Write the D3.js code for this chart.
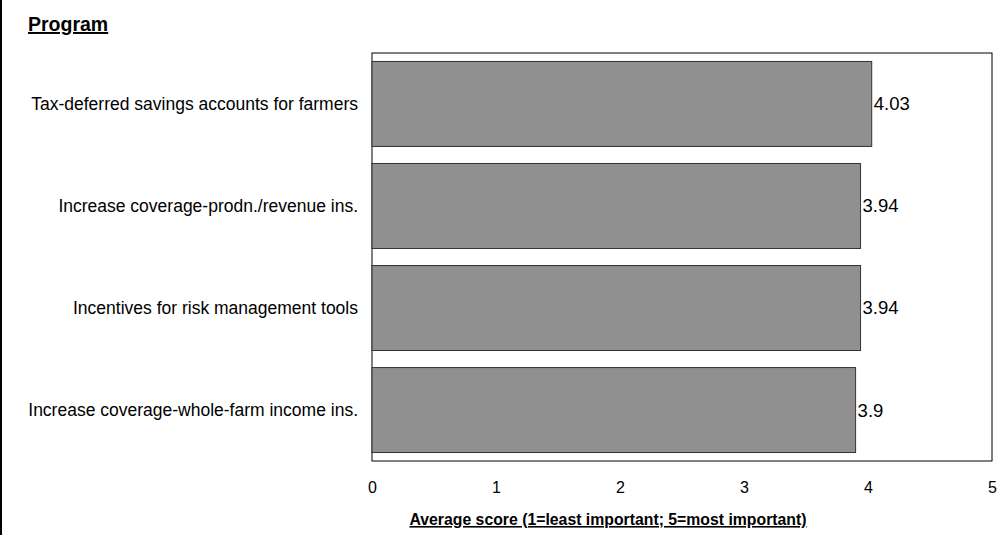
<!DOCTYPE html>
<html>
<head>
<meta charset="utf-8">
<script src="https://cdn.jsdelivr.net/npm/d3@7"></script>
<style>
  body { margin: 0; background: #fff; }
  text { font-family: "Liberation Sans", Arial, sans-serif; fill: #000; }
</style>
</head>
<body>
<div id="container"></div>
<script>
const programs = [
  "Tax-deferred savings accounts for farmers",
  "Increase coverage-prodn./revenue ins.",
  "Incentives for risk management tools",
  "Increase coverage-whole-farm income ins."
];
const scores = [4.03, 3.94, 3.94, 3.9];
const xTicks = [0, 1, 2, 3, 4, 5];

const width = 1007;
const height = 535;
const margin = { top: 53, right: 15, bottom: 74, left: 372 };
const plotW = width - margin.left - margin.right;
const plotH = height - margin.top - margin.bottom;
const fontFamily = "'Liberation Sans', Arial, sans-serif";

const svg = d3.select("#container")
  .append("svg")
  .attr("width", width)
  .attr("height", height);

// outer frame (only left edge shows in the picture)
svg.append("rect")
  .attr("x", 1)
  .attr("y", -10)
  .attr("width", width + 20)
  .attr("height", height + 20)
  .attr("fill", "none")
  .attr("stroke", "#000")
  .attr("stroke-width", 2);

svg.append("text")
  .attr("x", 28)
  .attr("y", 31)
  .style("font-size", "19.5px")
  .style("font-weight", "bold")
  .style("text-decoration", "underline")
  .text("Program");

const g = svg.append("g").attr("transform", `translate(${margin.left},${margin.top})`);

const x = d3.scaleLinear().domain([0, 5]).range([0, plotW]);
const y = d3.scaleBand()
  .domain(programs)
  .range([0, plotH])
  .paddingInner(0.167)
  .paddingOuter(0.083);

g.append("rect")
  .attr("width", plotW)
  .attr("height", plotH)
  .attr("fill", "#fff")
  .attr("stroke", "#000")
  .attr("stroke-width", 1);

g.selectAll("rect.bar")
  .data(programs)
  .enter()
  .append("rect")
  .attr("class", "bar")
  .attr("x", x(0))
  .attr("y", d => y(d))
  .attr("width", (d, i) => x(scores[i]) - x(0))
  .attr("height", y.bandwidth())
  .attr("fill", "#909090")
  .attr("stroke", "#333")
  .attr("stroke-width", 1);

g.selectAll("text.value")
  .data(programs)
  .enter()
  .append("text")
  .attr("class", "value")
  .attr("x", (d, i) => x(scores[i]) + 2)
  .attr("y", d => y(d) + y.bandwidth() / 2)
  .attr("dy", "0.35em")
  .style("font-size", "18.5px")
  .text((d, i) => scores[i]);

// category axis
const yAxis = g.append("g")
  .call(d3.axisLeft(y).tickSize(0).tickPadding(14))
  .attr("font-size", 17.5)
  .attr("font-family", fontFamily);
yAxis.select(".domain").remove();

// value axis
const xAxis = g.append("g")
  .attr("transform", `translate(0,${plotH})`)
  .call(d3.axisBottom(x).tickValues(xTicks).tickSize(0).tickPadding(21).tickFormat(d3.format("d")))
  .attr("font-size", 16)
  .attr("font-family", fontFamily);
xAxis.select(".domain").remove();

svg.append("text")
  .attr("x", 608)
  .attr("y", 525)
  .attr("text-anchor", "middle")
  .style("font-size", "15.8px")
  .style("font-weight", "bold")
  .style("text-decoration", "underline")
  .text("Average score (1=least important; 5=most important)");
</script>
</body>
</html>
